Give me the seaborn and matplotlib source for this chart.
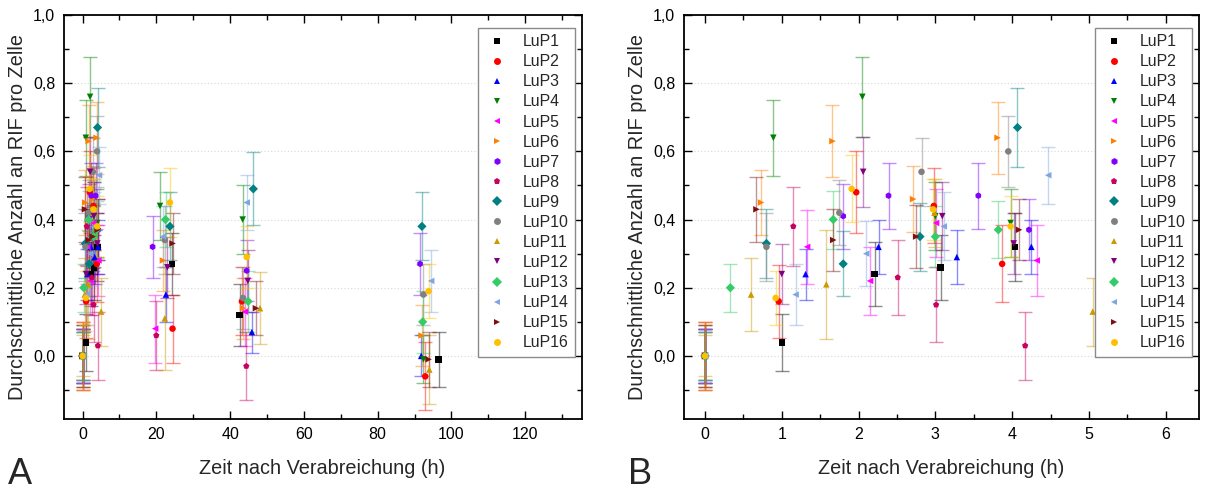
import numpy as np
import pandas as pd
import matplotlib
matplotlib.use("Agg")
import matplotlib.pyplot as plt
import seaborn as sns
from matplotlib.ticker import MultipleLocator, FuncFormatter

# ---------------- data (time in h, mean RIF per cell, error) ----------------
SERIES = [f"LuP{i}" for i in range(1, 17)]

lup1_t = [0, 1.00, 2.21, 3.07, 4.04, 24.2, 42.6, 96.5]
lup1_v = [0, 0.04, 0.24, 0.26, 0.32, 0.27, 0.12, -0.01]
lup1_e = [0.08, 0.083, 0.094, 0.096, 0.10, 0.09, 0.09, 0.08]

lup2_t = [0, 0.96, 1.97, 2.98, 3.87, 24.4, 43.2, 92.9]
lup2_v = [0, 0.16, 0.48, 0.44, 0.27, 0.08, 0.16, -0.06]
lup2_e = [0.10, 0.107, 0.12, 0.11, 0.113, 0.10, 0.10, 0.10]

lup3_t = [0, 1.31, 2.26, 3.28, 4.25, 22.6, 45.9, 91.8]
lup3_v = [0, 0.24, 0.32, 0.29, 0.32, 0.18, 0.07, 0.00]
lup3_e = [0.08, 0.075, 0.08, 0.078, 0.08, 0.08, 0.06, 0.06]

lup4_t = [0, 0.89, 2.05, 3.00, 3.98, 21.0, 43.4, 92.4]
lup4_v = [0, 0.64, 0.76, 0.41, 0.39, 0.44, 0.40, -0.01]
lup4_e = [0.09, 0.112, 0.117, 0.10, 0.10, 0.10, 0.10, 0.07]

lup5_t = [0, 1.33, 2.15, 3.01, 4.32, 19.7, 44.0]
lup5_v = [0, 0.32, 0.22, 0.39, 0.28, 0.08, 0.13]
lup5_e = [0.08, 0.108, 0.10, 0.10, 0.105, 0.10, 0.10]

lup6_t = [0, 0.73, 1.66, 2.71, 3.81, 21.8, 43.5, 91.9]
lup6_v = [0, 0.45, 0.63, 0.46, 0.64, 0.28, 0.14, 0.06]
lup6_e = [0.09, 0.096, 0.105, 0.097, 0.105, 0.09, 0.09, 0.09]

lup7_t = [0, 1.80, 2.39, 3.56, 4.22, 19.0, 44.5, 91.5]
lup7_v = [0, 0.41, 0.47, 0.47, 0.37, 0.32, 0.25, 0.27]
lup7_e = [0.07, 0.095, 0.097, 0.097, 0.09, 0.09, 0.09, 0.09]

lup8_t = [0, 1.15, 2.51, 3.01, 4.17, 20.0, 44.4]
lup8_v = [0, 0.38, 0.23, 0.15, 0.03, 0.06, -0.03]
lup8_e = [0.10, 0.116, 0.11, 0.11, 0.10, 0.10, 0.10]

lup9_t = [0, 0.80, 1.80, 2.80, 4.07, 23.7, 46.3, 92.0]
lup9_v = [0, 0.33, 0.27, 0.35, 0.67, 0.38, 0.49, 0.38]
lup9_e = [0.07, 0.10, 0.095, 0.10, 0.115, 0.10, 0.107, 0.10]

lup10_t = [0, 0.80, 1.75, 2.82, 3.95, 22.3, 43.5, 92.4]
lup10_v = [0, 0.32, 0.42, 0.54, 0.60, 0.34, 0.17, 0.18]
lup10_e = [0.07, 0.10, 0.095, 0.10, 0.105, 0.10, 0.09, 0.09]

lup11_t = [0, 0.60, 1.58, 2.99, 5.05, 22.3, 48.1, 94.0]
lup11_v = [0, 0.18, 0.21, 0.42, 0.13, 0.11, 0.14, -0.04]
lup11_e = [0.06, 0.107, 0.16, 0.10, 0.10, 0.15, 0.105, 0.10]

lup12_t = [0, 1.00, 2.06, 3.09, 4.02, 23.0, 44.8]
lup12_v = [0, 0.24, 0.54, 0.41, 0.33, 0.26, 0.22]
lup12_e = [0.08, 0.087, 0.103, 0.10, 0.09, 0.09, 0.09]

lup13_t = [0, 0.33, 1.67, 3.00, 3.82, 22.5, 44.9, 92.2]
lup13_v = [0, 0.20, 0.40, 0.35, 0.37, 0.40, 0.16, 0.10]
lup13_e = [0.07, 0.07, 0.085, 0.09, 0.083, 0.08, 0.09, 0.09]

lup14_t = [0, 1.18, 2.10, 3.11, 4.47, 21.8, 44.5, 94.5]
lup14_v = [0, 0.18, 0.30, 0.38, 0.53, 0.35, 0.45, 0.22]
lup14_e = [0.08, 0.09, 0.096, 0.10, 0.083, 0.09, 0.08, 0.09]

lup15_t = [0, 0.67, 1.67, 2.75, 4.09, 24.4, 47.0, 93.8]
lup15_v = [0, 0.43, 0.34, 0.35, 0.37, 0.33, 0.14, -0.01]
lup15_e = [0.09, 0.095, 0.09, 0.093, 0.09, 0.09, 0.08, 0.08]

lup16_t = [0, 0.92, 1.91, 2.97, 3.98, 23.7, 44.5, 93.8]
lup16_v = [0, 0.17, 0.49, 0.43, 0.38, 0.45, 0.29, 0.19]
lup16_e = [0.10, 0.08, 0.098, 0.09, 0.09, 0.10, 0.09, 0.08]

Y_TICKS = [0.0, 0.2, 0.4, 0.6, 0.8, 1.0]
XLABEL = "Zeit nach Verabreichung (h)"
YLABEL = "Durchschnittliche Anzahl an RIF pro Zelle"

# ---------------- styles ----------------
COLORS = ["#000000", "#FF0000", "#0000FF", "#008000", "#FF00FF", "#FF8000",
          "#8000FF", "#C8005F", "#008080", "#808080", "#CC9900", "#800080",
          "#33CC66", "#7FA6E0", "#801010", "#FFC000"]
MARKERS = ["s", "o", "^", "v", "<", ">", "h", "p", "D", "o", "^", "v",
           "D", "<", ">", "o"]

data_t = [lup1_t, lup2_t, lup3_t, lup4_t, lup5_t, lup6_t, lup7_t, lup8_t,
          lup9_t, lup10_t, lup11_t, lup12_t, lup13_t, lup14_t, lup15_t, lup16_t]
data_v = [lup1_v, lup2_v, lup3_v, lup4_v, lup5_v, lup6_v, lup7_v, lup8_v,
          lup9_v, lup10_v, lup11_v, lup12_v, lup13_v, lup14_v, lup15_v, lup16_v]
data_e = [lup1_e, lup2_e, lup3_e, lup4_e, lup5_e, lup6_e, lup7_e, lup8_e,
          lup9_e, lup10_e, lup11_e, lup12_e, lup13_e, lup14_e, lup15_e, lup16_e]

rows = []
for name, ts, vs, es in zip(SERIES, data_t, data_v, data_e):
    for t, v, e in zip(ts, vs, es):
        rows.append({"series": name, "t": t, "v": v, "e": e})
df = pd.DataFrame(rows)
df["series"] = pd.Categorical(df["series"], categories=SERIES, ordered=True)

sns.set_theme(style="ticks")
plt.rcParams["font.family"] = ["Liberation Sans", "DejaVu Sans"]

W, H = 1205, 493
fig = plt.figure(figsize=(W / 100, H / 100), dpi=100)
bottom, top = 419, 15
axA = fig.add_axes([63.5 / W, 1 - bottom / H, (581.7 - 63.5) / W, (bottom - top) / H])
axB = fig.add_axes([683.5 / W, 1 - bottom / H, (1198.7 - 683.5) / W, (bottom - top) / H])

pal = dict(zip(SERIES, COLORS))
mk = dict(zip(SERIES, MARKERS))

comma = FuncFormatter(lambda x, pos: f"{x:.1f}".replace(".", ","))

for ax, xlim, major, minor in [(axA, (-5.15, 135.3), 20, 10), (axB, (-0.28, 6.43), 1, 0.5)]:
    for name in SERIES:
        sub = df[df["series"] == name]
        ax.errorbar(sub["t"], sub["v"], yerr=sub["e"], fmt="none", ecolor=pal[name],
                    alpha=0.45, elinewidth=1.0, capsize=5, capthick=1.0, zorder=2)
    sns.scatterplot(data=df, x="t", y="v", hue="series", style="series",
                    palette=pal, markers=mk, s=22, linewidth=0, ax=ax,
                    zorder=3, legend="full")
    ax.set_xlim(*xlim)
    ax.set_ylim(-0.185, 1.0)
    ax.xaxis.set_major_locator(MultipleLocator(major))
    ax.xaxis.set_minor_locator(MultipleLocator(minor))
    ax.set_yticks(Y_TICKS)
    ax.yaxis.set_minor_locator(MultipleLocator(0.1))
    ax.yaxis.set_major_formatter(comma)
    ax.tick_params(which="both", direction="in", top=True, right=True,
                   width=1.0, labelsize=11.5, colors="black", pad=6)
    ax.tick_params(which="major", length=6)
    ax.tick_params(which="minor", length=3.5)
    for sp in ax.spines.values():
        sp.set_linewidth(1.3)
        sp.set_color("black")
    ax.yaxis.grid(True, which="major", linestyle=(0, (1, 2)), color="#d8d8d8", linewidth=0.8)
    ax.xaxis.grid(False)
    ax.set_axisbelow(True)
    ax.set_xlabel(XLABEL, fontsize=14.3, labelpad=12)
    ax.set_ylabel(YLABEL, fontsize=14.3, labelpad=4)

    handles, labels = ax.get_legend_handles_labels()
    hl = [(h, l) for h, l in zip(handles, labels) if l in SERIES]
    for h, _ in hl:
        try:
            h.set_markersize(5)
        except Exception:
            pass
    leg = ax.legend([h for h, _ in hl], [l for _, l in hl], loc="upper right",
                    bbox_to_anchor=(0.987, 0.968), borderaxespad=0, fontsize=11.4,
                    frameon=True, fancybox=False, framealpha=1, edgecolor="#8a8a8a",
                    labelspacing=0.32, handlelength=1.5, handletextpad=0.9,
                    borderpad=0.4)
    leg.get_frame().set_linewidth(1.0)

fig.text(8 / W, 1 - 492 / H, "A", fontsize=26, ha="left", va="bottom")
fig.text(628 / W, 1 - 492 / H, "B", fontsize=26, ha="left", va="bottom")

fig.savefig("out.png", dpi=100)
